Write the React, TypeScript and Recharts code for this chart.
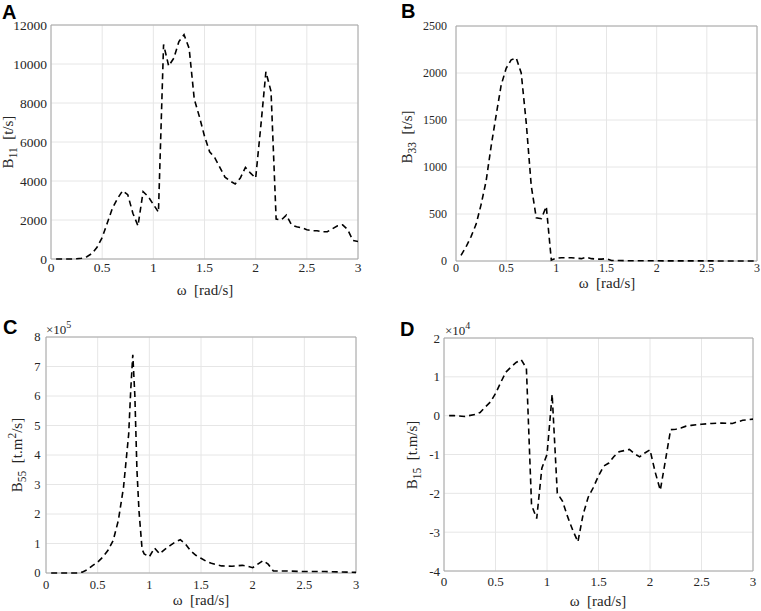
import React from 'react';
import { CartesianGrid, Line, LineChart, ReferenceArea, XAxis, YAxis } from 'recharts';

// frequency grid and radiation damping values
const omegaA = [0.05, 0.1, 0.15, 0.2, 0.25, 0.3, 0.35, 0.4, 0.45, 0.5, 0.55, 0.6, 0.65, 0.7, 0.75, 0.8, 0.85, 0.9, 0.95, 1.0, 1.05, 1.1, 1.15, 1.2, 1.25, 1.3, 1.35, 1.4, 1.45, 1.5, 1.55, 1.6, 1.65, 1.7, 1.75, 1.8, 1.85, 1.9, 1.95, 2.0, 2.05, 2.1, 2.15, 2.2, 2.25, 2.3, 2.35, 2.4, 2.45, 2.5, 2.55, 2.6, 2.65, 2.7, 2.75, 2.8, 2.85, 2.9, 2.95, 3.0];
const b11 = [0, 0, 0, 0, 10, 40, 120, 280, 600, 1100, 1850, 2600, 3100, 3500, 3300, 2350, 1700, 3450, 3200, 2800, 2400, 11000, 9900, 10300, 11150, 11500, 10800, 8200, 7300, 6300, 5500, 5200, 4700, 4200, 4000, 3850, 4150, 4700, 4400, 4150, 6800, 9600, 8600, 2050, 2000, 2250, 1750, 1650, 1600, 1500, 1450, 1450, 1400, 1400, 1550, 1700, 1750, 1500, 950, 900];

const omegaB = [0.05, 0.1, 0.15, 0.2, 0.25, 0.3, 0.35, 0.4, 0.45, 0.5, 0.55, 0.6, 0.65, 0.7, 0.75, 0.8, 0.85, 0.9, 0.95, 1.0, 1.05, 1.1, 1.15, 1.2, 1.25, 1.3, 1.35, 1.4, 1.45, 1.5, 1.55, 1.6, 1.7, 1.8, 2.0, 2.5, 3.0];
const b33 = [60, 150, 260, 390, 600, 850, 1220, 1550, 1870, 2050, 2140, 2160, 2000, 1470, 800, 460, 450, 580, 10, 30, 35, 35, 35, 30, 25, 40, 25, 20, 20, 25, 5, 5, 3, 2, 2, 1, 0];

const omegaC = [0.05, 0.1, 0.2, 0.3, 0.35, 0.4, 0.45, 0.5, 0.55, 0.6, 0.65, 0.7, 0.75, 0.8, 0.82, 0.84, 0.86, 0.88, 0.9, 0.93, 0.95, 1.0, 1.05, 1.1, 1.15, 1.2, 1.25, 1.3, 1.35, 1.4, 1.45, 1.5, 1.55, 1.6, 1.65, 1.7, 1.8, 1.9, 1.95, 2.0, 2.05, 2.1, 2.15, 2.2, 2.3, 2.5, 2.7, 3.0];
const b55 = [0, 0, 0, 500, 3000, 11000, 25000, 37000, 54000, 77000, 110000, 178000, 290000, 470000, 620000, 740000, 600000, 350000, 210000, 80000, 65000, 55000, 85000, 65000, 80000, 93000, 105000, 113000, 98000, 75000, 60000, 50000, 40000, 33000, 28000, 24000, 23000, 26000, 23000, 18000, 30000, 42000, 30000, 7000, 7000, 5000, 5000, 2000];

const omegaD = [0.05, 0.1, 0.2, 0.3, 0.35, 0.4, 0.45, 0.5, 0.55, 0.6, 0.65, 0.7, 0.75, 0.8, 0.85, 0.9, 0.95, 1.0, 1.05, 1.1, 1.15, 1.2, 1.25, 1.3, 1.35, 1.4, 1.45, 1.5, 1.55, 1.6, 1.65, 1.7, 1.75, 1.8, 1.85, 1.9, 1.95, 2.0, 2.05, 2.1, 2.15, 2.2, 2.25, 2.3, 2.35, 2.4, 2.5, 2.6, 2.7, 2.8, 2.9, 3.0];
const b15 = [0, 0, -200, 300, 800, 2200, 3500, 5700, 8500, 11200, 12500, 13700, 14400, 12200, -23000, -26500, -13500, -10000, 5500, -20000, -22000, -26000, -29500, -32500, -25500, -21000, -18500, -15500, -13000, -12200, -10500, -9300, -9000, -8700, -9800, -10600, -9600, -8800, -14500, -19200, -11500, -3600, -3500, -3200, -2700, -2500, -2200, -2000, -1900, -2000, -1200, -900];

const omegaTicks = [0, 0.5, 1, 1.5, 2, 2.5, 3];
const ticksA = [0, 2000, 4000, 6000, 8000, 10000, 12000];
const ticksB = [0, 500, 1000, 1500, 2000, 2500];
const ticksC = [0, 1e5, 2e5, 3e5, 4e5, 5e5, 6e5, 7e5, 8e5];
const ticksD = [-4e4, -3e4, -2e4, -1e4, 0, 1e4, 2e4];

const serif = "'Liberation Serif', 'DejaVu Serif', serif";

type PanelProps = {
  omega: number[];
  values: number[];
  yTicks: number[];
  box: [number, number, number, number]; // plot left, top, right, bottom
  fontSize: number;
  xGap: number;
  yGap: number;
  fmt?: (v: number) => string;
};

const Panel = ({ omega, values, yTicks, box, fontSize, xGap, yGap, fmt }: PanelProps) => {
  const [x0, y0, x1, y1] = box;
  const data = omega.map((w, i) => ({ w, v: values[i] }));
  const yMin = yTicks[0];
  const yMax = yTicks[yTicks.length - 1];
  const tick = { fontFamily: serif, fontSize, fill: '#262626' };
  return (
    <div style={{ position: 'absolute', left: x0 - 50, top: y0 - 10 }}>
      <LineChart width={x1 - x0 + 60} height={y1 - y0 + 50} data={data} margin={{ top: 10, right: 10, bottom: 20, left: 10 }}>
        <CartesianGrid stroke="#e6e6e6" />
        <XAxis
          dataKey="w"
          type="number"
          domain={[0, 3]}
          ticks={omegaTicks}
          height={20}
          axisLine={false}
          tickLine={false}
          tickSize={0}
          tickMargin={xGap}
          tick={tick}
          interval={0}
        />
        <YAxis
          type="number"
          domain={[yMin, yMax]}
          ticks={yTicks}
          width={40}
          axisLine={false}
          tickLine={false}
          tickSize={0}
          tickMargin={yGap}
          tick={tick}
          interval={0}
          tickFormatter={fmt}
        />
        <ReferenceArea x1={0} x2={3} y1={yMin} y2={yMax} fill="none" stroke="#a6a6a6" strokeWidth={1} />
        <Line
          type="linear"
          dataKey="v"
          stroke="#000"
          strokeWidth={1.6}
          strokeDasharray="6 4"
          dot={false}
          isAnimationActive={false}
        />
      </LineChart>
    </div>
  );
};

const letter = { fontFamily: "'Liberation Sans', Arial, sans-serif", fontWeight: 700, fontSize: 20, fill: '#000' };
const labelStyle = { fontFamily: serif, fontSize: 15, fill: '#262626' };

const YLabel = ({ x, y, sub, unit, sup }: { x: number; y: number; sub: string; unit: string; sup?: [string, string] }) => (
  <text transform={`translate(${x},${y}) rotate(-90)`} textAnchor="middle" style={labelStyle}>
    B<tspan fontSize={11.5} dy={4}>{sub}</tspan>
    <tspan dy={-4}>{'\u00a0\u00a0'}{unit}</tspan>
    {sup && (
      <>
        <tspan fontSize={11.5} dy={-6}>{sup[0]}</tspan>
        <tspan dy={6}>{sup[1]}</tspan>
      </>
    )}
  </text>
);

const XLabel = ({ x, y }: { x: number; y: number }) => (
  <text x={x} y={y} textAnchor="middle" style={labelStyle}>
    {'\u03c9\u00a0\u00a0[rad/s]'}
  </text>
);

const Exponent = ({ x, y, p }: { x: number; y: number; p: string }) => (
  <text x={x} y={y} style={{ fontFamily: serif, fontSize: 13, fill: '#262626' }}>
    {'\u00d710'}<tspan fontSize={10} dy={-6}>{p}</tspan>
  </text>
);

export default function App() {
  return (
    <div style={{ position: 'absolute', left: 0, top: 0, width: 761, height: 611, overflow: 'hidden', background: '#fff' }}>
      <Panel omega={omegaA} values={b11} yTicks={ticksA} box={[51, 25, 358, 259]} fontSize={13.5} xGap={3} yGap={4} />
      <Panel omega={omegaB} values={b33} yTicks={ticksB} box={[456, 26, 757, 261]} fontSize={12} xGap={2.5} yGap={9} />
      <Panel omega={omegaC} values={b55} yTicks={ticksC} box={[46, 337, 356, 573]} fontSize={12.5} xGap={7} yGap={5.5} fmt={(v) => String(v / 1e5)} />
      <Panel omega={omegaD} values={b15} yTicks={ticksD} box={[444, 338, 753, 571]} fontSize={13} xGap={6} yGap={4} fmt={(v) => String(v / 1e4)} />
      <svg width={761} height={611} style={{ position: 'absolute', left: 0, top: 0, pointerEvents: 'none' }}>
        <text x={2} y={19} style={letter}>A</text>
        <text x={401} y={18} style={letter}>B</text>
        <text x={3} y={334} style={letter}>C</text>
        <text x={400} y={336} style={letter}>D</text>

        <YLabel x={13} y={142} sub="11" unit="[t/s]" />
        <YLabel x={412} y={137} sub="33" unit="[t/s]" />
        <YLabel x={22} y={455} sub="55" unit="[t.m" sup={['2', '/s]']} />
        <YLabel x={417} y={455} sub="15" unit="[t.m/s]" />

        <XLabel x={205} y={295} />
        <XLabel x={607} y={288} />
        <XLabel x={201} y={605} />
        <XLabel x={598} y={606} />

        <Exponent x={46} y={334} p="5" />
        <Exponent x={445} y={335} p="4" />
      </svg>
    </div>
  );
}
